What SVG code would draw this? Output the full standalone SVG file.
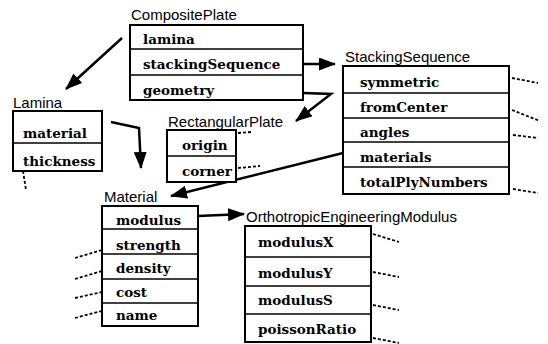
<svg xmlns="http://www.w3.org/2000/svg" width="548" height="344" viewBox="0 0 548 344">
<style>
.box{fill:#fff;stroke:#000;stroke-width:2}
.div{stroke:#000;stroke-width:1.6}
.title{font-family:"Liberation Sans",Arial,sans-serif;font-size:15px;fill:#000}
.attr{font-family:"DejaVu Serif","Liberation Serif",serif;font-weight:bold;font-size:13.5px;fill:#000}
.conn{fill:none;stroke:#000;stroke-width:2.5}
.dot{fill:none;stroke:#000;stroke-width:1.8;stroke-dasharray:3 2}
</style>
<defs>
<marker id="ah" viewBox="0 0 17 13" refX="16" refY="6.5" markerWidth="17" markerHeight="13" markerUnits="userSpaceOnUse" orient="auto">
<path d="M0,0 L17,6.5 L0,13 z" fill="#000"/>
</marker>
</defs>
<rect width="548" height="344" fill="#fff"/>

<g id="connectors">
<line class="conn" x1="122" y1="38" x2="66" y2="89" marker-end="url(#ah)"/>
<line class="conn" x1="303" y1="64" x2="335" y2="64" marker-end="url(#ah)"/>
<polyline class="conn" points="303,93 331,94 296,121" marker-end="url(#ah)"/>
<polyline class="conn" points="111,122 139,128 141,168" marker-end="url(#ah)"/>
<line class="conn" x1="343" y1="153" x2="171" y2="196" marker-end="url(#ah)"/>
<line class="conn" x1="198" y1="216" x2="244" y2="214" marker-end="url(#ah)"/>
<line class="dot" x1="512" y1="78" x2="538" y2="83"/>
<line class="dot" x1="512" y1="110" x2="540" y2="121"/>
<line class="dot" x1="513" y1="135" x2="538" y2="138"/>
<line class="dot" x1="513" y1="189" x2="538" y2="193"/>
<line class="dot" x1="23" y1="171" x2="26" y2="190"/>
<line class="dot" x1="238" y1="133" x2="251" y2="132"/>
<line class="dot" x1="238" y1="168" x2="260" y2="166"/>
<line class="dot" x1="75" y1="258" x2="102" y2="250"/>
<line class="dot" x1="75" y1="279" x2="102" y2="271"/>
<line class="dot" x1="75" y1="298" x2="102" y2="292"/>
<line class="dot" x1="75" y1="318" x2="102" y2="311"/>
<line class="dot" x1="373" y1="234" x2="399" y2="242"/>
<line class="dot" x1="373" y1="272" x2="399" y2="277"/>
<line class="dot" x1="373" y1="305" x2="399" y2="310"/>
<line class="dot" x1="373" y1="338" x2="399" y2="343"/>
</g>

<g id="CompositePlate">
<text class="title" x="131" y="20">CompositePlate</text>
<rect class="box" x="130" y="25" width="173" height="75"/>
<line class="div" x1="130" y1="49" x2="303" y2="49"/>
<line class="div" x1="130" y1="75" x2="303" y2="75"/>
<text class="attr" x="143" y="44">lamina</text>
<text class="attr" x="143" y="69">stackingSequence</text>
<text class="attr" x="143" y="95">geometry</text>
</g>

<g id="StackingSequence">
<text class="title" x="345" y="62">StackingSequence</text>
<rect class="box" x="343" y="66" width="166" height="128"/>
<line class="div" x1="343" y1="93" x2="509" y2="93"/>
<line class="div" x1="343" y1="118" x2="509" y2="118"/>
<line class="div" x1="343" y1="142" x2="509" y2="142"/>
<line class="div" x1="343" y1="167" x2="509" y2="167"/>
<text class="attr" x="360" y="87">symmetric</text>
<text class="attr" x="360" y="112">fromCenter</text>
<text class="attr" x="360" y="137">angles</text>
<text class="attr" x="360" y="162">materials</text>
<text class="attr" x="360" y="187">totalPlyNumbers</text>
</g>

<g id="Lamina">
<text class="title" x="13" y="108">Lamina</text>
<rect class="box" x="13" y="111" width="89" height="60"/>
<line class="div" x1="13" y1="143" x2="102" y2="143"/>
<text class="attr" x="23" y="138">material</text>
<text class="attr" x="23" y="166">thickness</text>
</g>

<g id="RectangularPlate">
<text class="title" x="168" y="127">RectangularPlate</text>
<rect class="box" x="167" y="130" width="69" height="52"/>
<line class="div" x1="167" y1="156" x2="236" y2="156"/>
<text class="attr" x="182" y="150">origin</text>
<text class="attr" x="182" y="176">corner</text>
</g>

<g id="Material">
<text class="title" x="104" y="202">Material</text>
<rect class="box" x="102" y="206" width="96" height="120"/>
<line class="div" x1="102" y1="229" x2="198" y2="229"/>
<line class="div" x1="102" y1="254" x2="198" y2="254"/>
<line class="div" x1="102" y1="279" x2="198" y2="279"/>
<line class="div" x1="102" y1="303" x2="198" y2="303"/>
<text class="attr" x="116" y="225">modulus</text>
<text class="attr" x="116" y="250">strength</text>
<text class="attr" x="116" y="273">density</text>
<text class="attr" x="116" y="297">cost</text>
<text class="attr" x="116" y="320">name</text>
</g>

<g id="OrthotropicEngineeringModulus">
<text class="title" x="246" y="222">OrthotropicEngineeringModulus</text>
<rect class="box" x="245" y="226" width="126" height="116"/>
<line class="div" x1="245" y1="257" x2="371" y2="257"/>
<line class="div" x1="245" y1="286" x2="371" y2="286"/>
<line class="div" x1="245" y1="314" x2="371" y2="314"/>
<text class="attr" x="258" y="247">modulusX</text>
<text class="attr" x="258" y="278">modulusY</text>
<text class="attr" x="258" y="305">modulusS</text>
<text class="attr" x="258" y="334">poissonRatio</text>
</g>
</svg>
